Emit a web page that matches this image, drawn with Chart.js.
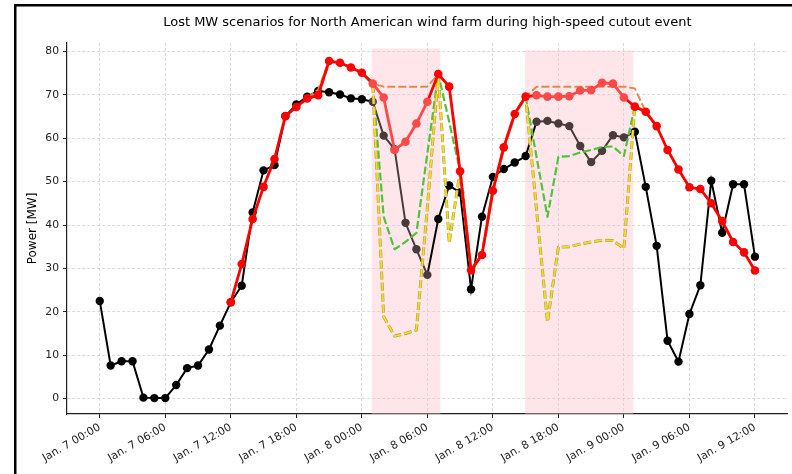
<!DOCTYPE html>
<html>
<head>
<meta charset="utf-8">
<title>Lost MW scenarios</title>
<script src="https://cdn.jsdelivr.net/npm/chart.js@4.4.1/dist/chart.umd.min.js"></script>
<style>
    html, body { margin: 0; padding: 0; background: #ffffff; }
    #chartContainer { position: relative; width: 792px; height: 474px; }
</style>
</head>
<body>
<div id="chartContainer"><canvas id="chartPower" width="792" height="474"></canvas></div>
<script>
/* ----------------------------------------------------------------------------
                                     DATA
---------------------------------------------------------------------------- */

// Axes -----------------------------------------------------------------------
// x values are hours counted from Jan. 7 00:00
var tickHours = [0, 6, 12, 18, 24, 30, 36, 42, 48, 54, 60];
var tickLabels = ['Jan. 7 00:00', 'Jan. 7 06:00', 'Jan. 7 12:00', 'Jan. 7 18:00',
                  'Jan. 8 00:00', 'Jan. 8 06:00', 'Jan. 8 12:00', 'Jan. 8 18:00',
                  'Jan. 9 00:00', 'Jan. 9 06:00', 'Jan. 9 12:00'];
var yTicks = [0, 10, 20, 30, 40, 50, 60, 70, 80];

// Measured power, hourly from Jan. 7 00:00 ------------------------------------
var actualStart = 0;
var actualMW = [22.5, 7.6, 8.6, 8.6, 0.2, 0.1, 0.1, 3.1, 7.0, 7.6,
                11.3, 16.8, 22.2, 26.0, 42.9, 52.6, 53.8, 65.1, 67.8, 69.6,
                70.9, 70.6, 70.1, 69.2, 69.0, 68.4, 60.6, 57.5, 40.5, 34.4,
                28.5, 41.4, 49.1, 47.5, 25.2, 41.9, 51.1, 52.9, 54.4, 55.9,
                63.8, 64.0, 63.4, 62.8, 58.2, 54.5, 57.1, 60.7, 60.2, 61.5,
                48.8, 35.2, 13.3, 8.5, 19.5, 26.1, 50.2, 38.2, 49.4, 49.4,
                32.7];

// Forecast, hourly from Jan. 7 12:00 -----------------------------------------
var forecastStart = 12;
var forecastMW = [22.2, 31.0, 41.4, 48.8, 55.2, 65.1, 67.2, 69.2, 69.9, 77.8,
                  77.4, 76.3, 75.1, 72.6, 69.4, 57.3, 59.2, 63.4, 68.4, 74.8,
                  71.9, 52.4, 29.6, 33.1, 47.9, 57.9, 65.6, 69.6, 69.9, 69.6,
                  69.6, 69.7, 71.0, 71.1, 72.8, 72.6, 69.4, 67.3, 66.1, 62.8,
                  57.3, 52.8, 48.7, 48.3, 45.0, 40.9, 36.1, 33.7, 29.5];

// Lost MW scenarios, hourly from Jan. 7 19:00 --------------------------------
var scenarioStart = 19;
var scenarioHighMW = [69.2, 71.2, 77.8, 77.4, 76.3, 75.1, 72.6, 71.9, 71.9, 71.9,
                      71.9, 71.9, 74.8, 71.9, 52.4, 29.6, 33.1, 47.9, 57.9, 65.6,
                      69.6, 71.9, 71.9, 71.9, 71.9, 71.9, 71.9, 71.9, 71.9, 71.9,
                      71.5, 66.1, 62.8];
var scenarioMidMW = [69.2, 69.9, 77.8, 77.4, 76.3, 75.1, 72.6, 41.9, 34.4, 36.1,
                     38.2, 56.5, 74.8, 63.8, 52.4, 29.6, 33.1, 47.9, 57.9, 65.6,
                     69.6, 55.7, 41.9, 55.7, 55.9, 56.7, 57.3, 58.0, 58.1, 55.9,
                     67.3, 66.1, 62.8];
var scenarioLowMW = [69.2, 69.9, 77.8, 77.4, 76.3, 75.1, 72.6, 18.9, 14.4, 15.0,
                     15.8, 44.0, 74.8, 35.9, 52.4, 29.6, 33.1, 47.9, 57.9, 65.6,
                     69.6, 43.5, 17.7, 34.9, 35.0, 35.6, 36.1, 36.5, 36.4, 34.6,
                     67.3, 66.1, 62.8];

// Cutout events (hours) ------------------------------------------------------
var eventStart = [24.9, 38.95];
var eventEnd = [31.2, 48.85];
var eventTop = [80.7, 80.3];
var eventFirstHour = [25, 40];
var eventLastHour = [30, 48];

/* ----------------------------------------------------------------------------
                                    MAIN
---------------------------------------------------------------------------- */

var colors = Array('#000000', '#ff0000', '#4a3b3b', '#ff4848', '#de8c4c', '#52c23c', '#f5dc2a', '#b39c3e');

function toPoints(start, values) {
    return values.map(function(v, i) { return { x: start + i, y: v }; });
}

function inEvent(hour) {
    for (var k = 0; k < eventFirstHour.length; k++) {
        if (hour >= eventFirstHour[k] && hour <= eventLastHour[k]) return true;
    }
    return false;
}

function pointColors(start, values, normal, light) {
    return values.map(function(v, i) { return inEvent(start + i) ? light : normal; });
}

function segmentColor(start, normal, light) {
    return function(ctx) {
        var h0 = start + ctx.p0DataIndex;
        var h1 = start + ctx.p1DataIndex;
        return (inEvent(h0) && inEvent(h1)) ? light : normal;
    };
}

// Event spans, drawn under the lines -----------------------------------------
var eventSpans = {
    id: 'eventSpans',
    beforeDatasetsDraw: function(chart) {
        var ctx = chart.ctx;
        var xs = chart.scales.x;
        var ys = chart.scales.y;
        ctx.save();
        ctx.fillStyle = 'rgba(255, 192, 203, 0.4)';
        for (var k = 0; k < eventStart.length; k++) {
            var x0 = xs.getPixelForValue(eventStart[k]);
            var x1 = xs.getPixelForValue(eventEnd[k]);
            var y0 = ys.getPixelForValue(eventTop[k]);
            ctx.fillRect(x0, y0, x1 - x0, chart.chartArea.bottom - y0);
        }
        ctx.restore();
    }
};

// Title and figure frame -----------------------------------------------------
var figureDecor = {
    id: 'figureDecor',
    afterDraw: function(chart) {
        var ctx = chart.ctx;
        var area = chart.chartArea;
        ctx.save();
        ctx.fillStyle = '#000000';
        ctx.font = '13px "DejaVu Sans", sans-serif';
        ctx.textAlign = 'center';
        ctx.textBaseline = 'middle';
        ctx.fillText('Lost MW scenarios for North American wind farm during high-speed cutout event',
                     (area.left + area.right) / 2, 22.5);
        ctx.fillRect(14, 4, 2.5, chart.height - 4);
        ctx.fillRect(14, 4, chart.width - 14, 2.5);
        ctx.restore();
    }
};

var tickFont = { family: '"DejaVu Sans", sans-serif', size: 10.8 };
var dashed = [8, 3];

const ctx_power = document.getElementById('chartPower').getContext('2d');

const chartPower = new Chart(ctx_power, {
    type: 'line',
    data: {
        datasets: [
            {
                label: 'Forecast',
                data: toPoints(forecastStart, forecastMW),
                borderColor: colors[1],
                borderWidth: 2.8,
                pointRadius: 4.3,
                pointBorderWidth: 0,
                pointBackgroundColor: pointColors(forecastStart, forecastMW, colors[1], colors[3]),
                segment: { borderColor: segmentColor(forecastStart, colors[1], colors[3]) },
                tension: 0,
                order: 1
            },
            {
                label: 'Scenario high',
                data: toPoints(scenarioStart, scenarioHighMW),
                borderColor: colors[4],
                borderWidth: 2,
                borderDash: dashed,
                borderJoinStyle: 'round',
                pointRadius: 0,
                tension: 0,
                order: 2
            },
            {
                label: 'Scenario low',
                data: toPoints(scenarioStart, scenarioLowMW),
                borderColor: colors[6],
                borderWidth: 1.8,
                borderDash: dashed,
                borderJoinStyle: 'round',
                pointRadius: 0,
                tension: 0,
                order: 3
            },
            {
                label: 'Scenario low edge',
                data: toPoints(scenarioStart, scenarioLowMW),
                borderColor: colors[7],
                borderWidth: 3,
                borderDash: dashed,
                borderJoinStyle: 'round',
                pointRadius: 0,
                tension: 0,
                order: 4
            },
            {
                label: 'Scenario mid',
                data: toPoints(scenarioStart, scenarioMidMW),
                borderColor: colors[5],
                borderWidth: 2.2,
                borderDash: dashed,
                borderJoinStyle: 'round',
                pointRadius: 0,
                tension: 0,
                order: 5
            },
            {
                label: 'Actual',
                data: toPoints(actualStart, actualMW),
                borderColor: colors[0],
                borderWidth: 2,
                pointRadius: 4.2,
                pointBorderWidth: 0,
                pointBackgroundColor: pointColors(actualStart, actualMW, colors[0], colors[2]),
                segment: { borderColor: segmentColor(actualStart, colors[0], colors[2]) },
                tension: 0,
                order: 6
            }
        ]
    },
    options: {
        responsive: false,
        animation: false,
        events: [],
        layout: {
            padding: { top: 43, left: 22, right: 3.4, bottom: 0 }
        },
        plugins: {
            legend: { display: false },
            tooltip: { enabled: false },
            title: { display: false }
        },
        scales: {
            x: {
                type: 'linear',
                min: -3,
                max: 63,
                afterBuildTicks: function(axis) {
                    axis.ticks = tickHours.map(function(h) { return { value: h }; });
                },
                afterFit: function(scale) { scale.height = 60; },
                grid: {
                    color: '#d2d2d2',
                    lineWidth: 0.8,
                    drawTicks: true,
                    tickLength: 4,
                    tickColor: '#222222',
                    tickWidth: 1
                },
                border: { display: true, color: '#222222', width: 1.2, dash: [3, 2] },
                ticks: {
                    autoSkip: false,
                    minRotation: 30,
                    maxRotation: 30,
                    padding: 3,
                    color: '#222222',
                    font: tickFont,
                    callback: function(value) {
                        var i = tickHours.indexOf(value);
                        return i >= 0 ? tickLabels[i] : '';
                    }
                }
            },
            y: {
                type: 'linear',
                min: -3.57,
                max: 81.96,
                afterBuildTicks: function(axis) {
                    axis.ticks = yTicks.map(function(v) { return { value: v }; });
                },
                afterFit: function(scale) { scale.width = 45; },
                grid: {
                    color: '#d2d2d2',
                    lineWidth: 0.8,
                    drawTicks: true,
                    tickLength: 4,
                    tickColor: '#222222',
                    tickWidth: 1
                },
                border: { display: true, color: '#222222', width: 1.2, dash: [3, 2] },
                ticks: {
                    padding: 4,
                    color: '#222222',
                    font: tickFont,
                    callback: function(value) { return String(value); }
                },
                title: {
                    display: true,
                    text: 'Power [MW]',
                    color: '#000000',
                    font: { family: '"DejaVu Sans", sans-serif', size: 12 },
                    padding: { top: 4, bottom: 4 }
                }
            }
        }
    },
    plugins: [eventSpans, figureDecor]
});
</script>
</body>
</html>
